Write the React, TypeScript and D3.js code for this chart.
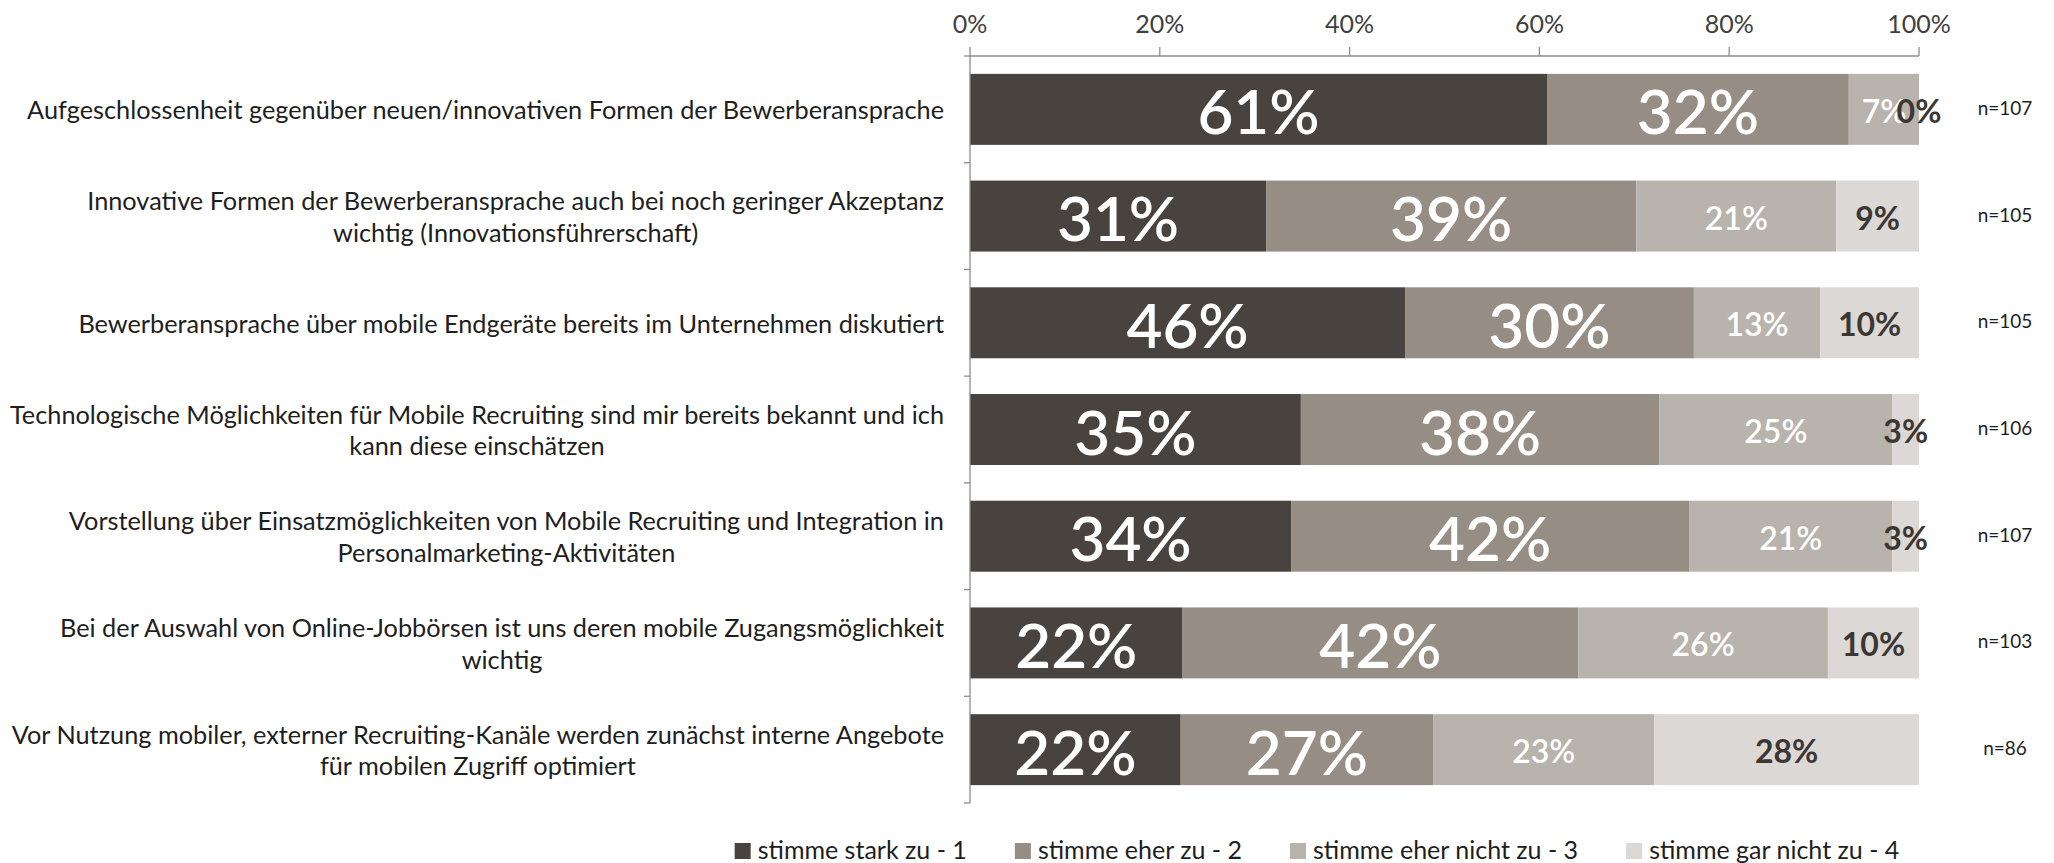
import React, { useEffect, useRef } from "react";
import * as d3 from "d3";

const categories: string[] = [
  "Aufgeschlossenheit gegenüber neuen/innovativen Formen der Bewerberansprache",
  "Innovative Formen der Bewerberansprache auch bei noch geringer Akzeptanz\nwichtig (Innovationsführerschaft)",
  "Bewerberansprache über mobile Endgeräte bereits im Unternehmen diskutiert",
  "Technologische Möglichkeiten für Mobile Recruiting sind mir bereits bekannt und ich\nkann diese einschätzen",
  "Vorstellung über Einsatzmöglichkeiten von Mobile Recruiting und Integration in\nPersonalmarketing-Aktivitäten",
  "Bei der Auswahl von Online-Jobbörsen ist uns deren mobile Zugangsmöglichkeit\nwichtig",
  "Vor Nutzung mobiler, externer Recruiting-Kanäle werden zunächst interne Angebote\nfür mobilen Zugriff optimiert",
];

const seriesNames: string[] = [
  "stimme stark zu - 1",
  "stimme eher zu - 2",
  "stimme eher nicht zu - 3",
  "stimme gar nicht zu - 4",
];

const stimmeStark: number[] = [60.8, 31.2, 45.8, 34.9, 33.8, 22.4, 22.2];
const stimmeEher: number[] = [31.8, 39.0, 30.4, 37.8, 41.9, 41.7, 26.6];
const stimmeEherNicht: number[] = [7.4, 21.1, 13.3, 24.6, 21.4, 26.3, 23.3];
const stimmeGarNicht: number[] = [0, 8.7, 10.4, 2.8, 2.8, 9.6, 27.9];

const sampleSizes: string[] = ["n=107", "n=105", "n=105", "n=106", "n=107", "n=103", "n=86"];

const xTicks: number[] = [0, 0.2, 0.4, 0.6, 0.8, 1];

const colors: string[] = ["#48433e", "#968d84", "#b8b3ad", "#dcd8d5"];

const FONT = "Lato, 'Open Sans', 'DejaVu Sans', sans-serif";

export default function App() {
  const ref = useRef<SVGSVGElement>(null);

  useEffect(() => {
    if (!ref.current) return;
    const svg = d3.select(ref.current);
    svg.selectAll("*").remove();

    const seriesValues = [stimmeStark, stimmeEher, stimmeEherNicht, stimmeGarNicht];
    const keys = seriesNames;
    const table = categories.map((c, i) => {
      const row: any = { idx: i };
      keys.forEach((k, s) => (row[k] = seriesValues[s][i]));
      return row;
    });

    const stack = d3.stack<any>().keys(keys).offset(d3.stackOffsetExpand);
    const stacked = stack(table);

    const x = d3.scaleLinear().domain([0, 1]).range([970, 1919]);
    const y = d3
      .scaleBand<number>()
      .domain(d3.range(categories.length))
      .range([56, 803])
      .paddingInner(0.335)
      .paddingOuter(0.1675);

    const axisColor = "#8c8c8c";

    // bars
    const g = svg.append("g");
    stacked.forEach((layer, s) => {
      g.append("g")
        .selectAll("rect")
        .data(layer)
        .join("rect")
        .attr("x", (d) => x(d[0]))
        .attr("y", (d) => y(d.data.idx)!)
        .attr("width", (d) => Math.max(0, x(d[1]) - x(d[0])))
        .attr("height", y.bandwidth())
        .attr("fill", colors[s]);
    });

    // top axis
    const ax = svg.append("g");
    ax.append("line")
      .attr("x1", x(0))
      .attr("x2", x(1))
      .attr("y1", 56)
      .attr("y2", 56)
      .attr("stroke", axisColor)
      .attr("stroke-width", 1.3);
    ax.selectAll("line.tick")
      .data(xTicks)
      .join("line")
      .attr("class", "tick")
      .attr("x1", (d) => x(d))
      .attr("x2", (d) => x(d))
      .attr("y1", 56)
      .attr("y2", 47)
      .attr("stroke", axisColor)
      .attr("stroke-width", 1.3);
    ax.selectAll("text")
      .data(xTicks)
      .join("text")
      .attr("x", (d) => x(d))
      .attr("y", 23)
      .attr("dominant-baseline", "central")
      .attr("text-anchor", "middle")
      .attr("font-family", FONT)
      .attr("font-size", 25)
      .attr("fill", "#404040")
      .text((d) => d3.format(".0%")(d));

    // left axis
    const ly = svg.append("g");
    ly.append("line")
      .attr("x1", x(0))
      .attr("x2", x(0))
      .attr("y1", 56)
      .attr("y2", 803)
      .attr("stroke", axisColor)
      .attr("stroke-width", 1.3);
    const step = y.step();
    ly.selectAll("line.tick")
      .data(d3.range(categories.length + 1))
      .join("line")
      .attr("class", "tick")
      .attr("x1", x(0) - 6)
      .attr("x2", x(0))
      .attr("y1", (d) => 56 + d * step)
      .attr("y2", (d) => 56 + d * step)
      .attr("stroke", axisColor)
      .attr("stroke-width", 1.3);

    // category labels
    const labelRight = 944;
    const lineH = 31.5;
    categories.forEach((c, i) => {
      const lines = c.split("\n");
      const cy = y(i)! + y.bandwidth() / 2;
      const tg = svg.append("g");
      const texts = lines.map((ln, j) =>
        tg
          .append("text")
          .attr("y", cy + (j - (lines.length - 1) / 2) * lineH)
          .attr("dominant-baseline", "central")
          .attr("text-anchor", "middle")
          .attr("font-family", FONT)
          .attr("font-size", 25.3)
          .attr("fill", "#1e1e1e")
          .text(ln)
      );
      const maxW = d3.max(texts, (t) => (t.node() as SVGTextElement).getComputedTextLength()) || 0;
      texts.forEach((t) => t.attr("x", labelRight - maxW / 2));
    });

    // segment labels
    const labelStyle = [
      { size: 62, weight: 600, fill: "#ffffff" },
      { size: 62, weight: 600, fill: "#ffffff" },
      { size: 32, weight: 600, fill: "#ffffff" },
      { size: 32, weight: 700, fill: "#3c3733" },
    ];
    stacked.forEach((layer, s) => {
      svg
        .append("g")
        .selectAll("text")
        .data(layer)
        .join("text")
        .attr("x", (d) => (x(d[0]) + x(d[1])) / 2)
        .attr("y", (d) => y(d.data.idx)! + y.bandwidth() / 2 + 1)
        .attr("dominant-baseline", "central")
        .attr("text-anchor", "middle")
        .attr("font-family", FONT)
        .attr("font-size", labelStyle[s].size)
        .attr("font-weight", labelStyle[s].weight)
        .attr("fill", labelStyle[s].fill)
        .text((d) => `${Math.round(seriesValues[s][d.data.idx])}%`);
    });

    // n labels
    svg
      .append("g")
      .selectAll("text")
      .data(sampleSizes)
      .join("text")
      .attr("x", 2005)
      .attr("y", (d, i) => y(i)! + y.bandwidth() / 2 - 2)
      .attr("dominant-baseline", "central")
      .attr("text-anchor", "middle")
      .attr("font-family", FONT)
      .attr("font-size", 19)
      .attr("fill", "#1e1e1e")
      .text((d) => d);

    // legend
    const lg = svg.append("g");
    const sq = 16;
    const sqGap = 7;
    const itemGap = 48;
    const legendCy = 849;
    const items = seriesNames.map((name, s) => {
      const gi = lg.append("g");
      gi.append("rect")
        .attr("x", 0)
        .attr("y", legendCy - sq / 2 + 2)
        .attr("width", sq)
        .attr("height", sq)
        .attr("fill", colors[s]);
      const t = gi
        .append("text")
        .attr("x", sq + sqGap)
        .attr("y", legendCy)
        .attr("dominant-baseline", "central")
        .attr("font-family", FONT)
        .attr("font-size", 25)
        .attr("fill", "#1e1e1e")
        .text(name);
      const w = sq + sqGap + (t.node() as SVGTextElement).getComputedTextLength();
      return { gi, w };
    });
    const total = d3.sum(items, (d) => d.w) + itemGap * (items.length - 1);
    let cx = 1317 - total / 2;
    items.forEach((it) => {
      it.gi.attr("transform", `translate(${cx},0)`);
      cx += it.w + itemGap;
    });
  }, []);

  return (
    <svg
      ref={ref}
      width={2054}
      height={863}
      style={{ position: "absolute", left: 0, top: 0, background: "#ffffff" }}
    />
  );
}
